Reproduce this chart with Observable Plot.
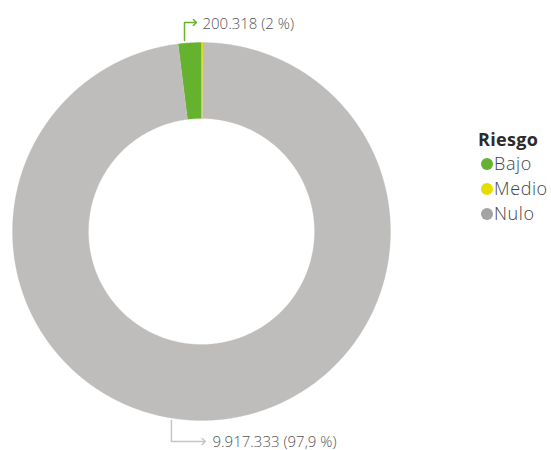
<!DOCTYPE html>
<html>
<head>
<meta charset="utf-8">
<script src="https://cdn.jsdelivr.net/npm/d3@7"></script>
<script src="https://cdn.jsdelivr.net/npm/@observablehq/plot@0.6"></script>
<style>
  html, body { margin: 0; padding: 0; background: #fff; }
  #wrap { position: relative; width: 551px; height: 450px; font-family: "Open Sans", Lato, sans-serif; }
  #legend { position: absolute; left: 478px; top: 127px; color: #333; }
  #legend .title { font-weight: 700; font-size: 18px; line-height: 24px; color: #2b2b2b; letter-spacing: 0.3px; }
  #legend .item { font-size: 18px; line-height: 25px; font-weight: 300; display: flex; align-items: center; color: #444; letter-spacing: 0.6px; }
  #legend .dot { width: 12px; height: 12px; border-radius: 50%; margin-right: 1px; margin-left: 3px; }
</style>
</head>
<body>
<div id="wrap"></div>
<script>
const legendTitle = "Riesgo";
const categories = ["Bajo", "Medio", "Nulo"];
const values = [200318, 12400, 9917333];
const labels = ["200.318 (2 %)", "", "9.917.333 (97,9 %)"];
const sliceColors = ["#64b22e", "#e3dd00", "#bebdbb"];
const legendColors = ["#64b22e", "#e3dd00", "#a3a3a3"];
const clockwiseOrder = ["Medio", "Nulo", "Bajo"];

const rows = categories.map((c, i) => ({category: c, value: values[i], label: labels[i], color: sliceColors[i]}));
const pie = d3.pie().value(d => d.value)
  .sort((a, b) => clockwiseOrder.indexOf(a.category) - clockwiseOrder.indexOf(b.category));
const arcs = pie(rows);

const inner = 0.598, outer = 1;
function slicePoints(a) {
  const pts = [];
  const n = Math.max(2, Math.ceil((a.endAngle - a.startAngle) / 0.01));
  for (let k = 0; k <= n; k++) {
    const t = a.startAngle + (a.endAngle - a.startAngle) * k / n;
    pts.push({x: outer * Math.sin(t), y: outer * Math.cos(t)});
  }
  for (let k = n; k >= 0; k--) {
    const t = a.startAngle + (a.endAngle - a.startAngle) * k / n;
    pts.push({x: inner * Math.sin(t), y: inner * Math.cos(t)});
  }
  return pts;
}

const sliceMarks = arcs.map(a => Plot.line(slicePoints(a), {
  x: "x", y: "y", fill: a.data.color, stroke: a.data.color, strokeWidth: 0.3, curve: "linear"
}));

const bajo = rows[0], nulo = rows[2];
const leaderBajo = [{x: -0.09, y: 1.011}, {x: -0.09, y: 1.106}, {x: -0.035, y: 1.106}];
const leaderNulo = [{x: -0.159, y: -1.0}, {x: -0.159, y: -1.111}, {x: 0.012, y: -1.111}];

const chart = Plot.plot({
  width: 551,
  height: 450,
  marginLeft: 12,
  marginRight: 161,
  marginTop: 42,
  marginBottom: 30,
  x: {domain: [-1, 1], axis: null},
  y: {domain: [-1, 1], axis: null},
  style: {fontFamily: "'Open Sans', Lato, sans-serif", background: "#fff", overflow: "visible"},
  marks: [
    ...sliceMarks,
    Plot.line(leaderBajo, {x: "x", y: "y", stroke: bajo.color, strokeWidth: 1.5, markerEnd: "arrow", clip: false}),
    Plot.line(leaderNulo, {x: "x", y: "y", stroke: "#c4c4c4", strokeWidth: 1.5, markerEnd: "arrow", clip: false}),
    Plot.text([bajo], {x: () => 0.005, y: () => 1.098, text: "label", textAnchor: "start", fontSize: 15, fontWeight: 300, fill: "#555", clip: false}),
    Plot.text([nulo], {x: () => 0.058, y: () => -1.116, text: "label", textAnchor: "start", fontSize: 15, fontWeight: 300, fill: "#555", clip: false})
  ]
});

const wrap = document.getElementById("wrap");
wrap.appendChild(chart);
const legend = document.createElement("div");
legend.id = "legend";
legend.innerHTML = `<div class="title">${legendTitle}</div>` +
  categories.map((c, i) => `<div class="item"><span class="dot" style="background:${legendColors[i]}"></span>${c}</div>`).join("");
wrap.appendChild(legend);
</script>
</body>
</html>
